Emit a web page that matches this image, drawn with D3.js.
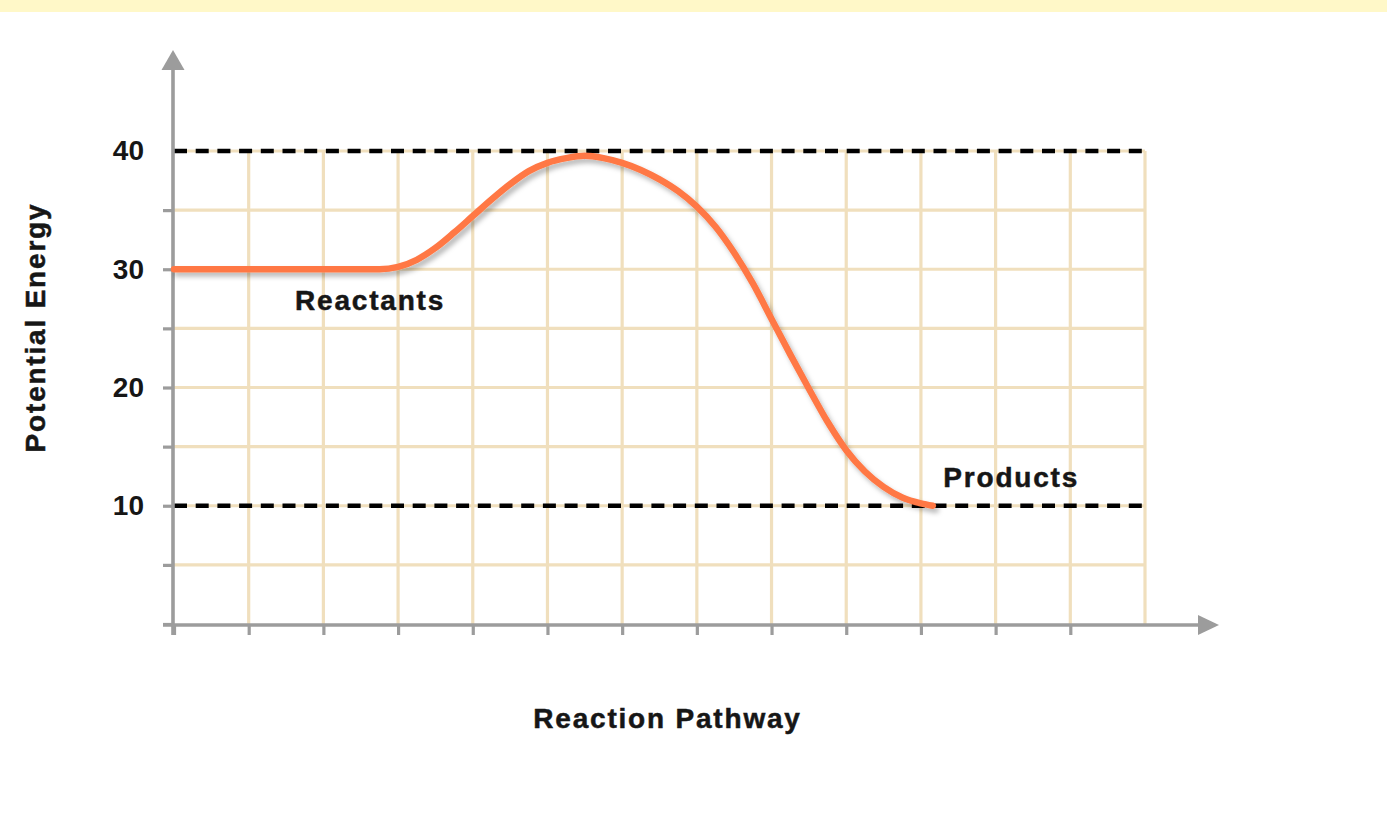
<!DOCTYPE html>
<html>
<head>
<meta charset="utf-8">
<script src="https://cdn.jsdelivr.net/npm/d3@7/dist/d3.min.js"></script>
<style>
  html, body { margin: 0; padding: 0; background: #ffffff; }
  svg { display: block; }
  text { font-family: "Liberation Sans", Arial, Helvetica, sans-serif; font-weight: bold; fill: #161616; }
</style>
</head>
<body>
<svg id="chart" width="1387" height="826"></svg>
<script>
// Reaction coordinate (grid units) and potential energy along the pathway
const pathway = [0, 1, 2, 2.75, 3.0, 3.25, 3.5, 3.75, 4.0, 4.25, 4.5, 4.75, 5.0, 5.25, 5.5, 5.75, 6.0, 6.25, 6.5, 6.75, 7.0, 7.25, 7.5, 7.75, 8.0, 8.25, 8.5, 8.75, 9.0, 9.25, 9.5, 9.75, 10.0, 10.16];
const energy  = [30, 30, 30, 30.0, 30.2, 30.8, 31.8, 33.1, 34.5, 35.9, 37.2, 38.3, 39.0, 39.4, 39.6, 39.4, 39.0, 38.4, 37.6, 36.6, 35.3, 33.6, 31.4, 28.8, 25.8, 22.8, 19.9, 17.1, 14.7, 12.9, 11.6, 10.7, 10.2, 10.0];

// Axis ticks and labels
const xTicks = [0, 1, 2, 3, 4, 5, 6, 7, 8, 9, 10, 11, 12];
const xGrid = [1, 2, 3, 4, 5, 6, 7, 8, 9, 10, 11, 12, 13];
const yTicks = [0, 5, 10, 15, 20, 25, 30, 35, 40];
const yLabels = [10, 20, 30, 40];
const levels = [40, 10];   // transition-state and product levels drawn as dashed guides

const annotations = [
  { text: "Reactants", x: 1.62, y: 26.55 },
  { text: "Products",  x: 10.3, y: 11.6 }
];
const xTitle = "Reaction Pathway";
const yTitle = "Potential Energy";

const svg = d3.select("#chart");
const W = 1387, H = 826;

const x = d3.scaleLinear().domain([0, 13]).range([174, 1145]);
const y = d3.scaleLinear().domain([0, 40]).range([624, 151]);

// pale banner along the top edge
svg.append("rect").attr("x", 0).attr("y", 0).attr("width", W).attr("height", 12).attr("fill", "#fff8c8");

const defs = svg.append("defs");
const f = defs.append("filter").attr("id", "shadow")
  .attr("x", "-5%").attr("y", "-10%").attr("width", "115%").attr("height", "130%");
f.append("feDropShadow").attr("dx", 3).attr("dy", 4).attr("stdDeviation", 2.5)
  .attr("flood-color", "#000").attr("flood-opacity", 0.28);

// grid
const grid = svg.append("g").attr("stroke", "#f0dfbd").attr("stroke-width", 3.2);
grid.selectAll("line.v").data(xGrid).join("line")
  .attr("x1", d => x(d)).attr("x2", d => x(d))
  .attr("y1", y(40)).attr("y2", y(0));
grid.selectAll("line.h").data(yTicks.filter(d => d > 0)).join("line")
  .attr("x1", x(0)).attr("x2", x(13))
  .attr("y1", d => y(d)).attr("y2", d => y(d));

// dashed energy levels
svg.append("g").selectAll("line").data(levels).join("line")
  .attr("x1", x(0)).attr("x2", x(13))
  .attr("y1", d => y(d)).attr("y2", d => y(d))
  .attr("stroke", "#000").attr("stroke-width", 4.5)
  .attr("stroke-dasharray", "13,8.7");

// axes
const axisColor = "#9c9c9c";
const yAxis = svg.append("g").attr("transform", `translate(${x(0) - 1},0)`)
  .call(d3.axisLeft(y).tickValues(yTicks).tickSize(10).tickPadding(19)
    .tickFormat(d => yLabels.includes(d) ? d : ""));
yAxis.select(".domain").remove();
yAxis.selectAll(".tick line").attr("stroke", axisColor).attr("stroke-width", 3.2)
  .attr("opacity", d => d === 40 ? 0 : 1);
yAxis.selectAll(".tick text").style("font-size", "28px").attr("fill", "#161616");

const xAxis = svg.append("g").attr("transform", `translate(0,${y(0) + 1})`)
  .call(d3.axisBottom(x).tickValues(xTicks).tickSize(10).tickFormat(""));
xAxis.select(".domain").remove();
xAxis.selectAll(".tick line").attr("stroke", axisColor).attr("stroke-width", 3.2);

// axis lines with arrowheads
const ax = svg.append("g").attr("fill", axisColor).attr("stroke", axisColor);
ax.append("line").attr("x1", x(0) - 1).attr("x2", x(0) - 1).attr("y1", y(0) + 11).attr("y2", 66)
  .attr("stroke-width", 3.6);
ax.append("path").attr("stroke", "none")
  .attr("d", `M${x(0) - 1},50 L${x(0) + 10.5},70 L${x(0) - 12.5},70 Z`);
ax.append("line").attr("x1", x(0) - 11).attr("x2", 1202).attr("y1", y(0) + 1).attr("y2", y(0) + 1)
  .attr("stroke-width", 3.6);
ax.append("path").attr("stroke", "none")
  .attr("d", `M1219,${y(0) + 1} L1198,${y(0) - 9} L1198,${y(0) + 11} Z`);

// energy profile
const line = d3.line().x((d, i) => x(pathway[i])).y(d => y(d)).curve(d3.curveMonotoneX);
svg.append("path").datum(energy)
  .attr("d", line)
  .attr("fill", "none")
  .attr("stroke", "#ff7845")
  .attr("stroke-width", 6.5)
  .attr("stroke-linecap", "round")
  .attr("filter", "url(#shadow)");

// labels
const labelStyle = sel => sel
  .style("font-size", "28px").style("letter-spacing", "1.8px")
  .attr("stroke", "#161616").attr("stroke-width", 0.5);

svg.append("g").selectAll("text").data(annotations).join("text")
  .attr("x", d => x(d.x)).attr("y", d => y(d.y))
  .call(labelStyle)
  .text(d => d.text);

svg.append("text")
  .attr("x", (x(0) + x(13)) / 2 + 8).attr("y", 728)
  .attr("text-anchor", "middle")
  .call(labelStyle)
  .text(xTitle);

svg.append("text")
  .attr("transform", `translate(45,${(y(0) + y(40)) / 2 - 60}) rotate(-90)`)
  .attr("text-anchor", "middle")
  .call(labelStyle)
  .text(yTitle);
</script>
</body>
</html>
